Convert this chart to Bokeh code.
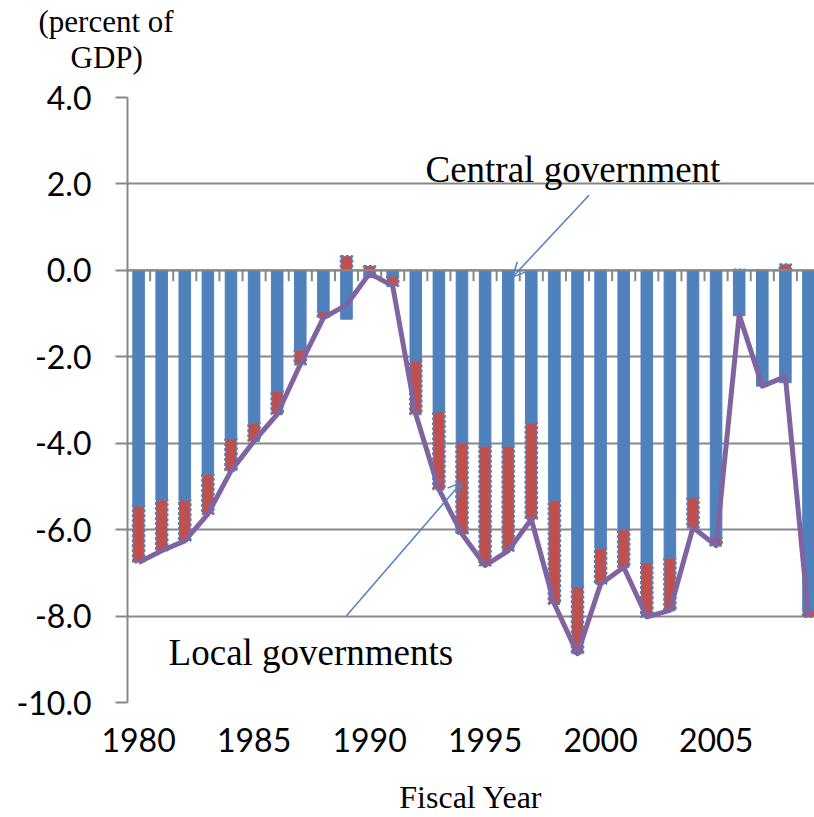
from bokeh.plotting import figure
from bokeh.models import (Range1d, ColumnDataSource, FixedTicker, NumeralTickFormatter,
                          Span, Label, Arrow, OpenHead, Title)
from bokeh.embed import file_html
from bokeh.resources import INLINE

years = list(range(1980, 2010))
central = [-5.45, -5.31, -5.31, -4.72, -3.90, -3.53, -2.80, -1.84, -0.95, -1.13,
           -0.17, -0.14, -2.10, -3.27, -3.99, -4.07, -4.07, -3.53, -5.33, -7.33,
           -6.43, -5.99, -6.77, -6.66, -5.26, -6.18, -1.05, -2.68, -2.60, -7.87]
local = [-1.31, -1.18, -0.95, -0.92, -0.74, -0.42, -0.53, -0.34, -0.15, 0.33,
         0.10, -0.22, -1.23, -1.80, -2.11, -2.76, -2.42, -2.23, -2.39, -1.54,
         -0.83, -0.88, -1.25, -1.21, -0.69, -0.19, 0.02, 0.00, 0.14, -0.15]
total = [-6.76, -6.49, -6.26, -5.64, -4.64, -3.95, -3.33, -2.18, -1.10, -0.80,
         -0.07, -0.36, -3.33, -5.07, -6.10, -6.83, -6.49, -5.76, -7.72, -8.87,
         -7.26, -6.87, -8.02, -7.87, -5.95, -6.37, -1.03, -2.68, -2.46, -8.02]
y_ticks = [-10, -8, -6, -4, -2, 0, 2, 4]
x_label_years = [1980, 1985, 1990, 1995, 2000, 2005]

BLUE = "#4F81BD"
RED = "#C0504D"
PURPLE = "#8064A2"
GRID = "#878787"
SERIF = "Liberation Serif"

# stacking like a spreadsheet: negatives stack below the central bar, positives above zero
loc_bottom, loc_top = [], []
for c, l in zip(central, local):
    if l < 0:
        base = min(c, 0.0)
    else:
        base = max(c, 0.0)
    loc_bottom.append(base)
    loc_top.append(base + l)

src = ColumnDataSource(dict(x=years, central=central, lb=loc_bottom, lt=loc_top, total=total))

p = figure(width=814, height=817, x_range=Range1d(1979.52, 2009.26), y_range=Range1d(-10, 4),
           output_backend="svg", toolbar_location=None, title=None,
           min_border_left=127, min_border_right=0, min_border_top=97, min_border_bottom=113)
p.outline_line_color = None
p.background_fill_color = "white"
p.xgrid.grid_line_color = None
p.ygrid.grid_line_color = GRID
p.ygrid.grid_line_width = 2
p.ygrid.ticker = FixedTicker(ticks=y_ticks)

# unit note above the plot, two centred lines
p.add_layout(Title(text="GDP)", text_font=SERIF, text_font_size="31px",
                   text_font_style="normal", text_color="black",
                   align="left", offset=-57, standoff=46), "above")
p.add_layout(Title(text="(percent of", text_font=SERIF, text_font_size="31px",
                   text_font_style="normal", text_color="black",
                   align="left", offset=-89, standoff=-48), "above")

# y axis
p.yaxis.ticker = FixedTicker(ticks=y_ticks)
p.yaxis.formatter = NumeralTickFormatter(format="0.0")
p.yaxis.axis_line_color = GRID
p.yaxis.axis_line_width = 2
p.yaxis.major_tick_line_color = GRID
p.yaxis.major_tick_line_width = 2
p.yaxis.major_tick_out = 12
p.yaxis.major_tick_in = 0
p.yaxis.minor_tick_line_color = None
p.yaxis.major_label_text_font = "Lato"
p.yaxis.major_label_text_font_size = "32px"
p.yaxis.major_label_text_color = "black"
p.yaxis.major_label_standoff = 24

# x axis (labels only)
p.xaxis.ticker = FixedTicker(ticks=x_label_years)
p.xaxis.axis_line_color = None
p.xaxis.major_tick_line_color = None
p.xaxis.minor_tick_line_color = None
p.xaxis.major_label_text_font = "Lato"
p.xaxis.major_label_text_font_size = "32px"
p.xaxis.major_label_text_color = "black"
p.xaxis.major_label_standoff = 19
p.xaxis.axis_label = "Fiscal Year"
p.xaxis.axis_label_text_font = SERIF
p.xaxis.axis_label_text_font_size = "32px"
p.xaxis.axis_label_text_font_style = "normal"
p.xaxis.axis_label_text_color = "black"
p.xaxis.axis_label_standoff = 24

# bars
p.vbar(x="x", bottom=0, top="central", width=0.5, source=src,
       fill_color=BLUE, line_color=BLUE, line_width=1)
p.vbar(x="x", bottom="lb", top="lt", width=0.5, source=src,
       fill_color=RED, line_color=BLUE, line_width=2, line_dash="3 2")

# category axis at zero with tick marks between categories
p.add_layout(Span(location=0, dimension="width", line_color=GRID, line_width=2))
tick_x = [y + 0.5 for y in years]
p.segment(x0=tick_x, y0=[0] * len(tick_x), x1=tick_x, y1=[-0.25] * len(tick_x),
          line_color=GRID, line_width=2)

# total line
p.line(x="x", y="total", source=src, line_color=PURPLE, line_width=5, line_join="round")

# annotations
p.add_layout(Label(x=1992.42, y=2.34, text="Central government", text_font=SERIF,
                   text_font_size="37px", text_color="black", text_baseline="middle"))
p.add_layout(Arrow(end=OpenHead(size=14, line_color=BLUE, line_width=1.5),
                   x_start=1999.5, y_start=1.74, x_end=1996.2, y_end=-0.15,
                   line_color=BLUE, line_width=1.5))
p.add_layout(Label(x=1981.3, y=-8.85, text="Local governments", text_font=SERIF,
                   text_font_size="37px", text_color="black", text_baseline="middle"))
p.add_layout(Arrow(end=OpenHead(size=14, line_color=BLUE, line_width=1.5),
                   x_start=1989.0, y_start=-7.99, x_end=1994.0, y_end=-4.90,
                   line_color=BLUE, line_width=1.5))

open("out.html", "w").write(file_html(p, INLINE))
